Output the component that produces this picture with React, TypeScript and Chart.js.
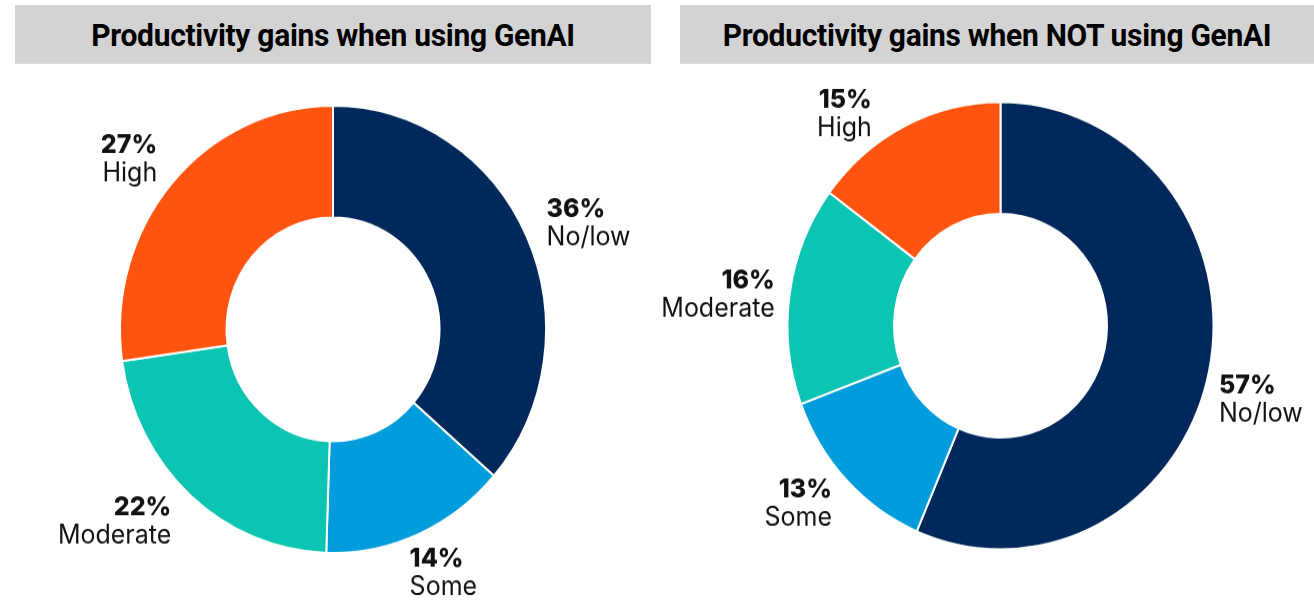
import React, { useEffect, useRef } from "react";
import { Chart, registerables } from "chart.js";

Chart.register(...registerables);

const categories = ["No/low", "Some", "Moderate", "High"];
const usingValues = [36, 14, 22, 27];
const notUsingValues = [57, 13, 16, 15];
const titleUsing = "Productivity gains when using GenAI";
const titleNotUsing = "Productivity gains when NOT using GenAI";
const sliceColors = ["#00285a", "#009cdb", "#0bc4b1", "#ff5410"];
// label nudges (px) relative to the arc mid-angle anchor
const usingNudges = [[8, -9], [-14, 23], [-11, 13], [-5, -16]];
const notUsingNudges = [[-3, 24], [-5, 12], [-2, 0], [-27, -1]];

const STRETCH = 1.05;

const labelPlugin = {
  id: "sliceLabels",
  afterDatasetsDraw(chart: any, _args: any, opts: any) {
    const ctx = chart.ctx;
    const meta = chart.getDatasetMeta(0);
    const ds = chart.data.datasets[0];
    meta.data.forEach((arc: any, i: number) => {
      const p = arc.getProps(["x", "y", "startAngle", "endAngle", "outerRadius"], true);
      const mid = (p.startAngle + p.endAngle) / 2;
      const r = p.outerRadius + opts.gap;
      const nud = opts.nudges[i] || [0, 0];
      const ax = p.x + r * Math.cos(mid) + nud[0];
      const ay = p.y + r * Math.sin(mid) + nud[1];
      const align = Math.cos(mid) >= 0 ? "left" : "right";
      ctx.save();
      ctx.textAlign = align;
      ctx.textBaseline = "alphabetic";
      ctx.fillStyle = "#111";
      const b1 = ay - 4.4;
      ctx.font = "800 25px Inter, 'Noto Sans', sans-serif";
      ctx.fillText(ds.data[i] + "%", ax, b1);
      ctx.font = "25px Inter, 'Noto Sans', sans-serif";
      ctx.fillText(chart.data.labels[i], ax, b1 + 27);
      ctx.restore();
    });
  },
};

function Donut(props: {
  values: number[];
  nudges: number[][];
  left: number;
  width: number;
  padding: { left: number; right: number; top: number; bottom: number };
}) {
  const ref = useRef<HTMLCanvasElement>(null);
  useEffect(() => {
    const chart = new Chart(ref.current as HTMLCanvasElement, {
      type: "doughnut",
      data: {
        labels: categories,
        datasets: [
          {
            data: props.values,
            backgroundColor: sliceColors,
            borderColor: "#ffffff",
            borderWidth: 2,
            radius: 213,
            cutout: "50%",
          } as any,
        ],
      },
      options: {
        responsive: false,
        animation: false,
        devicePixelRatio: 1,
        layout: { padding: props.padding },
        plugins: {
          legend: { display: false },
          tooltip: { enabled: false },
          sliceLabels: { gap: 13, nudges: props.nudges },
        } as any,
      },
      plugins: [labelPlugin],
    });
    return () => chart.destroy();
  }, []);
  return (
    <div
      style={{
        position: "absolute",
        left: props.left,
        top: 70,
        width: props.width,
        height: 510,
        transform: `scaleY(${STRETCH})`,
        transformOrigin: "top left",
      }}
    >
      <canvas ref={ref} width={props.width} height={510} style={{ display: "block" }} />
    </div>
  );
}

const titleStyle = (left: number, width: number): React.CSSProperties => ({
  position: "absolute",
  left,
  top: 5,
  width,
  height: 56,
  background: "#d3d3d3",
  display: "flex",
  alignItems: "center",
  justifyContent: "center",
  fontFamily: "Roboto, 'Noto Sans', sans-serif",
  fontWeight: 700,
  fontSize: 30,
  letterSpacing: -0.3,
  color: "#000",
  transform: `scaleY(${STRETCH})`,
  transformOrigin: "top left",
});

export default function App() {
  return (
    <div
      style={{
        position: "fixed",
        left: 0,
        top: 0,
        width: 1314,
        height: 606,
        background: "#fff",
        overflow: "hidden",
      }}
    >
      <div style={titleStyle(15, 636)}>{titleUsing}</div>
      <div style={titleStyle(680, 634)}>{titleNotUsing}</div>
      <Donut
        values={usingValues}
        nudges={usingNudges}
        left={0}
        width={660}
        padding={{ left: 6, right: 0, top: 0, bottom: 16 }}
      />
      <Donut
        values={notUsingValues}
        nudges={notUsingNudges}
        left={660}
        width={654}
        padding={{ left: 27, right: 0, top: 0, bottom: 23 }}
      />
    </div>
  );
}
